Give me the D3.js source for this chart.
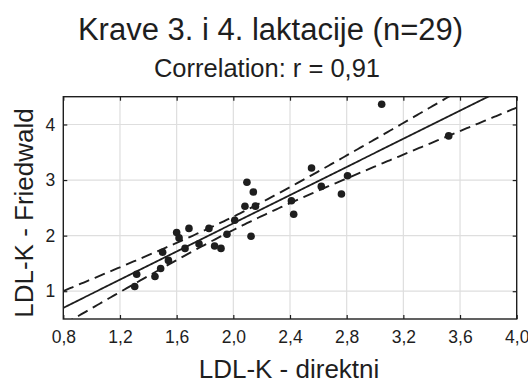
<!DOCTYPE html>
<html>
<head>
<meta charset="utf-8">
<script src="https://cdn.jsdelivr.net/npm/d3@7"></script>
<style>
  html, body { margin: 0; padding: 0; background: #fff; }
  svg { display: block; font-family: "Liberation Sans", Arial, sans-serif; }
</style>
</head>
<body>
<svg id="chart" width="528" height="385"></svg>
<script>
// ---- data ----
const title = "Krave 3. i 4. laktacije (n=29)";
const subtitle = "Correlation: r = 0,91";
const xLabel = "LDL-K - direktni";
const yLabel = "LDL-K - Friedwald";
const xTicks = [0.8, 1.2, 1.6, 2.0, 2.4, 2.8, 3.2, 3.6, 4.0];
const yTicks = [1, 2, 3, 4];
const xDomain = [0.8, 4.0];
const yDomain = [0.5, 4.5];
const xValues = [1.304, 1.318, 1.447, 1.487, 1.542, 1.501, 1.600, 1.617, 1.659, 1.687,
                 1.758, 1.828, 1.868, 1.913, 1.955, 2.010, 2.082, 2.096, 2.141, 2.156,
                 2.125, 2.410, 2.426, 2.552, 2.621, 2.763, 2.806, 3.047, 3.520];
const yValues = [1.085, 1.306, 1.265, 1.408, 1.554, 1.702, 2.056, 1.959, 1.770, 2.130,
                 1.851, 2.130, 1.813, 1.770, 2.026, 2.278, 2.530, 2.961, 2.785, 2.531,
                 1.990, 2.629, 2.386, 3.217, 2.886, 2.749, 3.077, 4.365, 3.795];
const tCrit = 2.052; // t(0.975, df = 27)

(function () {
const svg = d3.select("#chart");
const mL = 63.3, mR = 516.7, mT = 96.7, mB = 319;
const x = d3.scaleLinear().domain(xDomain).range([mL, mR]);
const y = d3.scaleLinear().domain(yDomain).range([mB, mT]);
const fmt = v => d3.format(".1f")(v).replace(".", ",");
const ink = "#1e1e1e";

svg.append("defs").append("clipPath").attr("id", "clip")
  .append("rect").attr("x", mL).attr("y", mT).attr("width", mR - mL).attr("height", mB - mT);

// grid
svg.append("g").selectAll("line").data(xTicks.slice(1, -1)).join("line")
  .attr("x1", d => x(d)).attr("x2", d => x(d)).attr("y1", mT).attr("y2", mB)
  .attr("stroke", "#dedede").attr("stroke-width", 1.2);
svg.append("g").selectAll("line").data(yTicks).join("line")
  .attr("y1", d => y(d)).attr("y2", d => y(d)).attr("x1", mL).attr("x2", mR)
  .attr("stroke", "#dedede").attr("stroke-width", 1.2);

// regression & 95% CI of the mean
const n = xValues.length;
const xm = d3.mean(xValues), ym = d3.mean(yValues);
let sxx = 0, sxy = 0;
for (let i = 0; i < n; i++) { sxx += (xValues[i]-xm)**2; sxy += (xValues[i]-xm)*(yValues[i]-ym); }
const b = sxy / sxx, a = ym - b * xm;
let sse = 0;
for (let i = 0; i < n; i++) sse += (yValues[i] - (a + b*xValues[i]))**2;
const s = Math.sqrt(sse / (n - 2));
const xs = d3.range(0, 201).map(i => xDomain[0] + (xDomain[1]-xDomain[0]) * i / 200);
const half = xv => tCrit * s * Math.sqrt(1/n + (xv - xm)**2 / sxx);
const line = d3.line().x(d => x(d[0])).y(d => y(d[1]));
const plot = svg.append("g").attr("clip-path", "url(#clip)");
plot.append("path").datum(xs.map(v => [v, a + b*v]))
  .attr("d", line).attr("fill", "none").attr("stroke", ink).attr("stroke-width", 1.8);
plot.append("path").datum(xs.map(v => [v, a + b*v + half(v)]))
  .attr("d", line).attr("fill", "none").attr("stroke", ink).attr("stroke-width", 1.9)
  .attr("stroke-dasharray", "11,6");
plot.append("path").datum(xs.map(v => [v, a + b*v - half(v)]))
  .attr("d", line).attr("fill", "none").attr("stroke", ink).attr("stroke-width", 1.9)
  .attr("stroke-dasharray", "11,6");

// points
plot.append("g").selectAll("circle").data(xValues.map((v, i) => [v, yValues[i]])).join("circle")
  .attr("cx", d => x(d[0])).attr("cy", d => y(d[1])).attr("r", 3.8).attr("fill", ink);

// frame
svg.append("rect").attr("x", mL).attr("y", mT).attr("width", mR-mL).attr("height", mB-mT)
  .attr("fill", "none").attr("stroke", ink).attr("stroke-width", 1.4);

// axes (inward ticks)
const xAxisG = svg.append("g").attr("transform", `translate(0,${mB})`)
  .call(d3.axisBottom(x).tickValues(xTicks).tickFormat(fmt).tickSizeInner(-4).tickSizeOuter(0));
xAxisG.selectAll("text").attr("y", 24).attr("dy", 0);
const xAxisTop = svg.append("g").attr("transform", `translate(0,${mT})`)
  .call(d3.axisTop(x).tickValues(xTicks).tickFormat("").tickSizeInner(-4).tickSizeOuter(0));
const yAxisG = svg.append("g").attr("transform", `translate(${mL},0)`)
  .call(d3.axisLeft(y).tickValues(yTicks).tickFormat(d3.format("d")).tickSizeInner(-4).tickSizeOuter(0).tickPadding(8));
const yAxisR = svg.append("g").attr("transform", `translate(${mR},0)`)
  .call(d3.axisRight(y).tickValues(yTicks).tickFormat("").tickSizeInner(-4).tickSizeOuter(0));
[xAxisG, xAxisTop, yAxisG, yAxisR].forEach(g => {
  g.select(".domain").remove();
  g.selectAll(".tick line").attr("stroke", ink).attr("stroke-width", 1.2);
  g.selectAll("text").attr("font-family", "Liberation Sans, Arial, sans-serif")
    .attr("font-size", 17.5).attr("fill", ink);
});

// titles
svg.append("text").attr("x", 270.5).attr("y", 40).attr("text-anchor", "middle")
  .attr("font-size", 31).attr("fill", ink).text(title);
svg.append("text").attr("x", 267).attr("y", 76.5).attr("text-anchor", "middle")
  .attr("font-size", 25.5).attr("fill", ink).text(subtitle);
svg.append("text").attr("x", 289).attr("y", 378).attr("text-anchor", "middle")
  .attr("font-size", 26).attr("fill", ink).text(xLabel);
svg.append("text").attr("transform", "translate(33,213) rotate(-90)").attr("text-anchor", "middle")
  .attr("font-size", 26).attr("fill", ink).text(yLabel);
})();
</script>
</body>
</html>
